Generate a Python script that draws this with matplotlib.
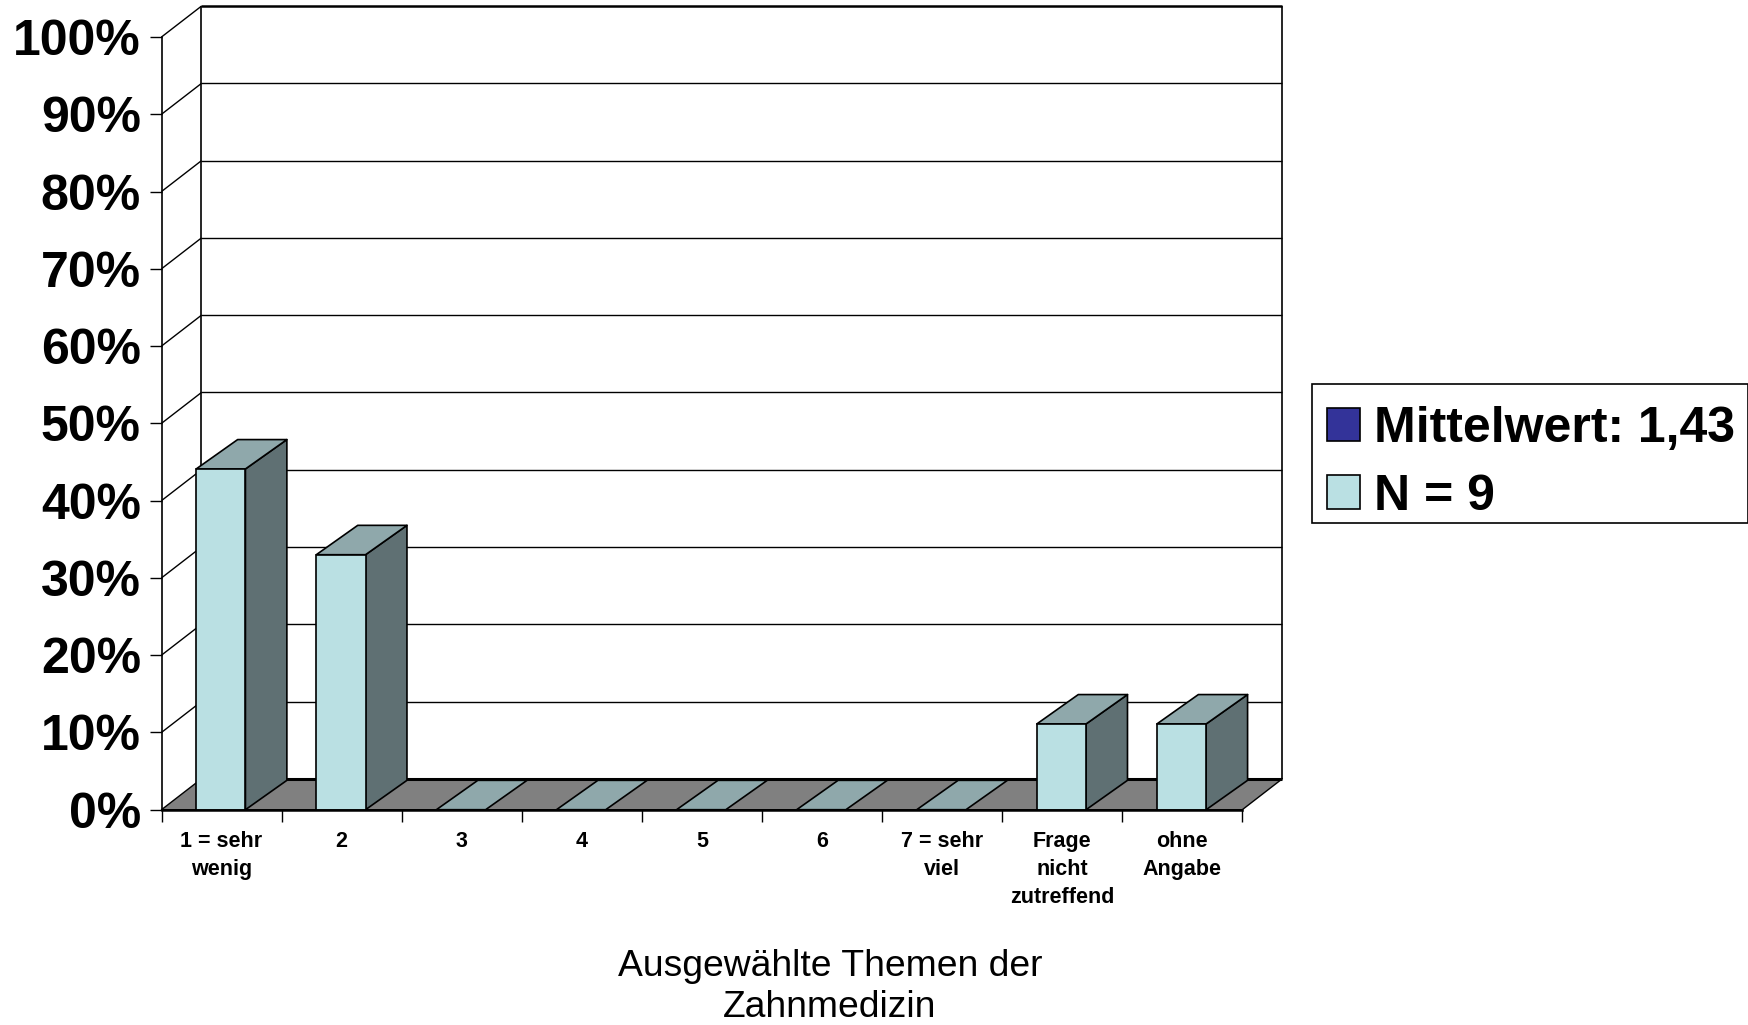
import numpy as np
import matplotlib
matplotlib.use("Agg")
import matplotlib.pyplot as plt
from matplotlib.patches import Polygon, Patch, Rectangle

plt.rcParams['font.family'] = ['Liberation Sans', 'DejaVu Sans']

categories = ["1 = sehr\nwenig", "2", "3", "4", "5", "6", "7 = sehr\nviel",
              "Frage\nnicht\nzutreffend", "ohne\nAngabe"]
values = [44.1, 33.0, 0, 0, 0, 0, 0, 11.1, 11.1]
y_ticks = [0, 10, 20, 30, 40, 50, 60, 70, 80, 90, 100]
y_labels = [f"{v}%" for v in y_ticks]
legend_labels = ["Mittelwert: 1,43", "N = 9"]
x_title = "Ausgewählte Themen der\nZahnmedizin"

FRONT = "#BAE0E3"
SIDE = "#5F7073"
TOP = "#8FA8AB"
FLOOR = "#808080"
NAVY = "#333399"
DEPTH_X = 0.333   # category units
DEPTH_Y = 4.0     # percent units
BAR_DX = 0.345
BAR_DY = 3.8
BAR_W = 0.41
BAR_SHIFT = -0.006

W, H = 1748, 1025
fig = plt.figure(figsize=(W / 100, H / 100), dpi=100, facecolor="white")
ax = fig.add_axes([161.5 / W, 1 - 809.7 / H, (1242.3 - 161.5) / W, (809.7 - 37) / H])
ax.set_xlim(0, 9)
ax.set_ylim(0, 100)
ax.patch.set_visible(False)
for s in ("top", "right"):
    ax.spines[s].set_visible(False)
ax.spines["left"].set_linewidth(1.2)
ax.spines["bottom"].set_linewidth(1.8)
ax.spines["left"].set_zorder(1)
ax.spines["bottom"].set_zorder(6)

n = len(categories)


def poly(pts, fc, z, lw=1.2, ec="black"):
    ax.add_patch(Polygon(pts, closed=True, facecolor=fc, edgecolor=ec, lw=lw,
                         zorder=z, clip_on=False, joinstyle="round"))


def line(xs, ys, lw=1.0, z=2):
    ax.plot(xs, ys, color="black", lw=lw, zorder=z, clip_on=False,
            solid_capstyle="butt")


# gridlines on back wall and diagonals on the side wall
for v in y_ticks[1:]:
    lw = 1.8 if v == y_ticks[-1] else 1.0
    line([DEPTH_X, n + DEPTH_X], [v + DEPTH_Y] * 2, lw=lw)
    line([0, DEPTH_X], [v, v + DEPTH_Y], lw=1.0)
top_y = y_ticks[-1] + DEPTH_Y
line([DEPTH_X, DEPTH_X], [DEPTH_Y, top_y], lw=1.2)
line([n + DEPTH_X, n + DEPTH_X], [DEPTH_Y, top_y], lw=1.2)

# floor
poly([(0, 0), (n, 0), (n + DEPTH_X, DEPTH_Y), (DEPTH_X, DEPTH_Y)], FLOOR, 3, lw=1.0)
line([DEPTH_X, n + DEPTH_X], [DEPTH_Y, DEPTH_Y], lw=2.2, z=3.5)

# bars
xs = np.arange(n) + 0.5
bar_xs = xs + BAR_SHIFT
for x, v in zip(bar_xs, values):
    l, r = x - BAR_W / 2, x + BAR_W / 2
    if v > 0:
        poly([(r, 0), (r + BAR_DX, BAR_DY), (r + BAR_DX, v + BAR_DY), (r, v)], SIDE, 4)
    poly([(l, v), (r, v), (r + BAR_DX, v + BAR_DY), (l + BAR_DX, v + BAR_DY)], TOP, 4)
ax.bar(bar_xs, values, width=BAR_W, color=FRONT, edgecolor="black", linewidth=1.2, zorder=5)

# axes ticks and labels
ax.set_yticks(y_ticks)
ax.set_yticklabels(y_labels, fontsize=36, fontweight="bold")
ax.tick_params(axis="y", length=8.3, width=1.0, pad=6.5)
ax.set_xticks(np.arange(n + 1))
ax.set_xticklabels([])
ax.tick_params(axis="x", which="major", length=8.5, width=1.0)
ax.set_xticks(xs, minor=True)
ax.set_xticklabels(categories, minor=True, fontsize=15.5, fontweight="bold", linespacing=1.42)
ax.tick_params(axis="x", which="minor", length=0, pad=15.5)

fig.text(830 / W, 1 - 987 / H, x_title, ha="center", va="center", fontsize=26.8,
         linespacing=1.24)

# legend frame and entries
fig.patches.append(Rectangle((1312 / W, 1 - 523 / H), 436 / W, 139 / H, transform=fig.transFigure,
                             facecolor="white", edgecolor="black", lw=1.2, zorder=1))
handles = [Patch(facecolor=NAVY, edgecolor="black", lw=1.2),
           Patch(facecolor=FRONT, edgecolor="black", lw=1.2)]
leg = fig.legend(handles, legend_labels, loc="upper left",
                 bbox_to_anchor=(1312 / W, 1 - 391 / H), borderaxespad=0,
                 prop={"size": 36, "weight": "bold"}, frameon=False,
                 handlelength=0.66, handleheight=0.66,
                 handletextpad=0.29, borderpad=0.3, labelspacing=0.434)
leg.set_zorder(2)

fig.savefig("out.png", dpi=100, facecolor="white")
